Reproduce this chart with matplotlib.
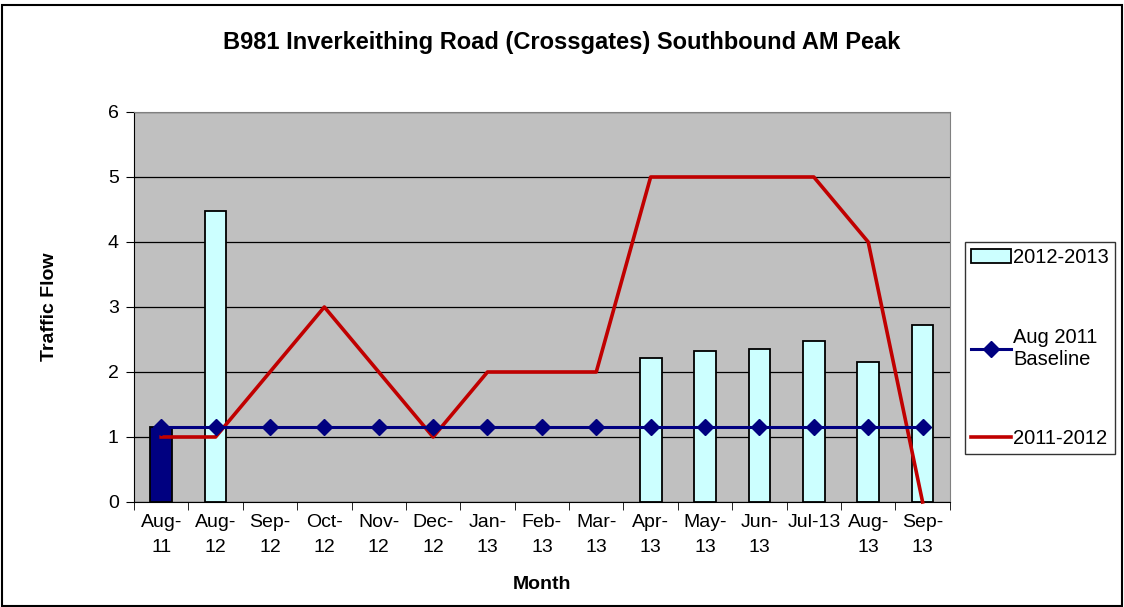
import matplotlib
matplotlib.use('Agg')
import matplotlib.pyplot as plt
from matplotlib.lines import Line2D
from matplotlib.patches import Patch, Rectangle
import numpy as np

plt.rcParams['font.family'] = ['Liberation Sans', 'DejaVu Sans']

months = ['Aug-\n11', 'Aug-\n12', 'Sep-\n12', 'Oct-\n12', 'Nov-\n12', 'Dec-\n12', 'Jan-\n13',
          'Feb-\n13', 'Mar-\n13', 'Apr-\n13', 'May-\n13', 'Jun-\n13', 'Jul-13', 'Aug-\n13', 'Sep-\n13']
nan = np.nan
bars_2012_13 = [1.15, 4.48, nan, nan, nan, nan, nan, nan, nan, 2.22, 2.33, 2.35, 2.47, 2.15, 2.72]
baseline = [1.15] * 15
flow_2011_12 = [1, 1, 2, 3, 2, 1, 2, 2, 2, 5, 5, 5, 5, 4, 0]

fig = plt.figure(figsize=(11.24, 6.07), dpi=100)
ax = fig.add_axes([0.1192, 0.173, 0.7258, 0.6425])
ax.set_facecolor('#C0C0C0')

x = np.arange(len(months))
colors = ['#000080'] + ['#CCFFFF'] * (len(months) - 1)
ax.bar(x, bars_2012_13, width=0.4, color=colors, edgecolor='black', lw=1.3, zorder=2)
ax.plot(x, flow_2011_12, color='#C00000', lw=2.6, zorder=3, clip_on=False)
ax.plot(x, baseline, color='#000080', lw=2.2, marker='D', ms=8, zorder=4)

ax.set_xlim(-0.5, len(months) - 0.5)
ax.set_ylim(0, 6)
ax.set_yticks(range(7))
ax.yaxis.grid(True, color='black', lw=0.9)
ax.set_axisbelow(True)
ax.set_xticks(x)
ax.set_xticklabels(months, fontsize=14, linespacing=1.6)
ax.set_xticks(np.arange(-0.5, len(months)), minor=True)
ax.tick_params(axis='x', which='major', length=0, pad=9)
ax.tick_params(axis='x', which='minor', length=6, direction='out', color='black')
ax.tick_params(axis='y', labelsize=14, length=6, direction='out', pad=5)
for s in ['top', 'right']:
    ax.spines[s].set_color('#808080')
for s in ['left', 'bottom']:
    ax.spines[s].set_color('black')

ax.set_xlabel('Month', fontsize=14, fontweight='bold', labelpad=14)
ax.set_ylabel('Traffic Flow', fontsize=14, fontweight='bold', labelpad=36)
fig.text(0.5, 0.93, 'B981 Inverkeithing Road (Crossgates) Southbound AM Peak',
         ha='center', va='center', fontsize=17, fontweight='bold')

handles = [Patch(facecolor='#CCFFFF', edgecolor='black', lw=1.3),
           Line2D([], [], color='#000080', lw=2.2, marker='D', ms=8),
           Line2D([], [], color='#C00000', lw=2.6)]
labels = ['2012-2013', 'Aug 2011\nBaseline', '2011-2012']
leg = fig.legend(handles, labels, loc='center left', bbox_to_anchor=(0.8585, 0.4265),
                 fontsize=14.5, frameon=True, fancybox=False, edgecolor='black',
                 labelspacing=3.0, handlelength=2.0, handletextpad=0.1, borderpad=0.3,
                 borderaxespad=0)
leg.get_frame().set_linewidth(1.0)

fig.patches.append(Rectangle((0.002, 0.002), 0.996, 0.99, transform=fig.transFigure,
                             fill=False, edgecolor='black', lw=1.5))

fig.savefig('out.png', dpi=100)
